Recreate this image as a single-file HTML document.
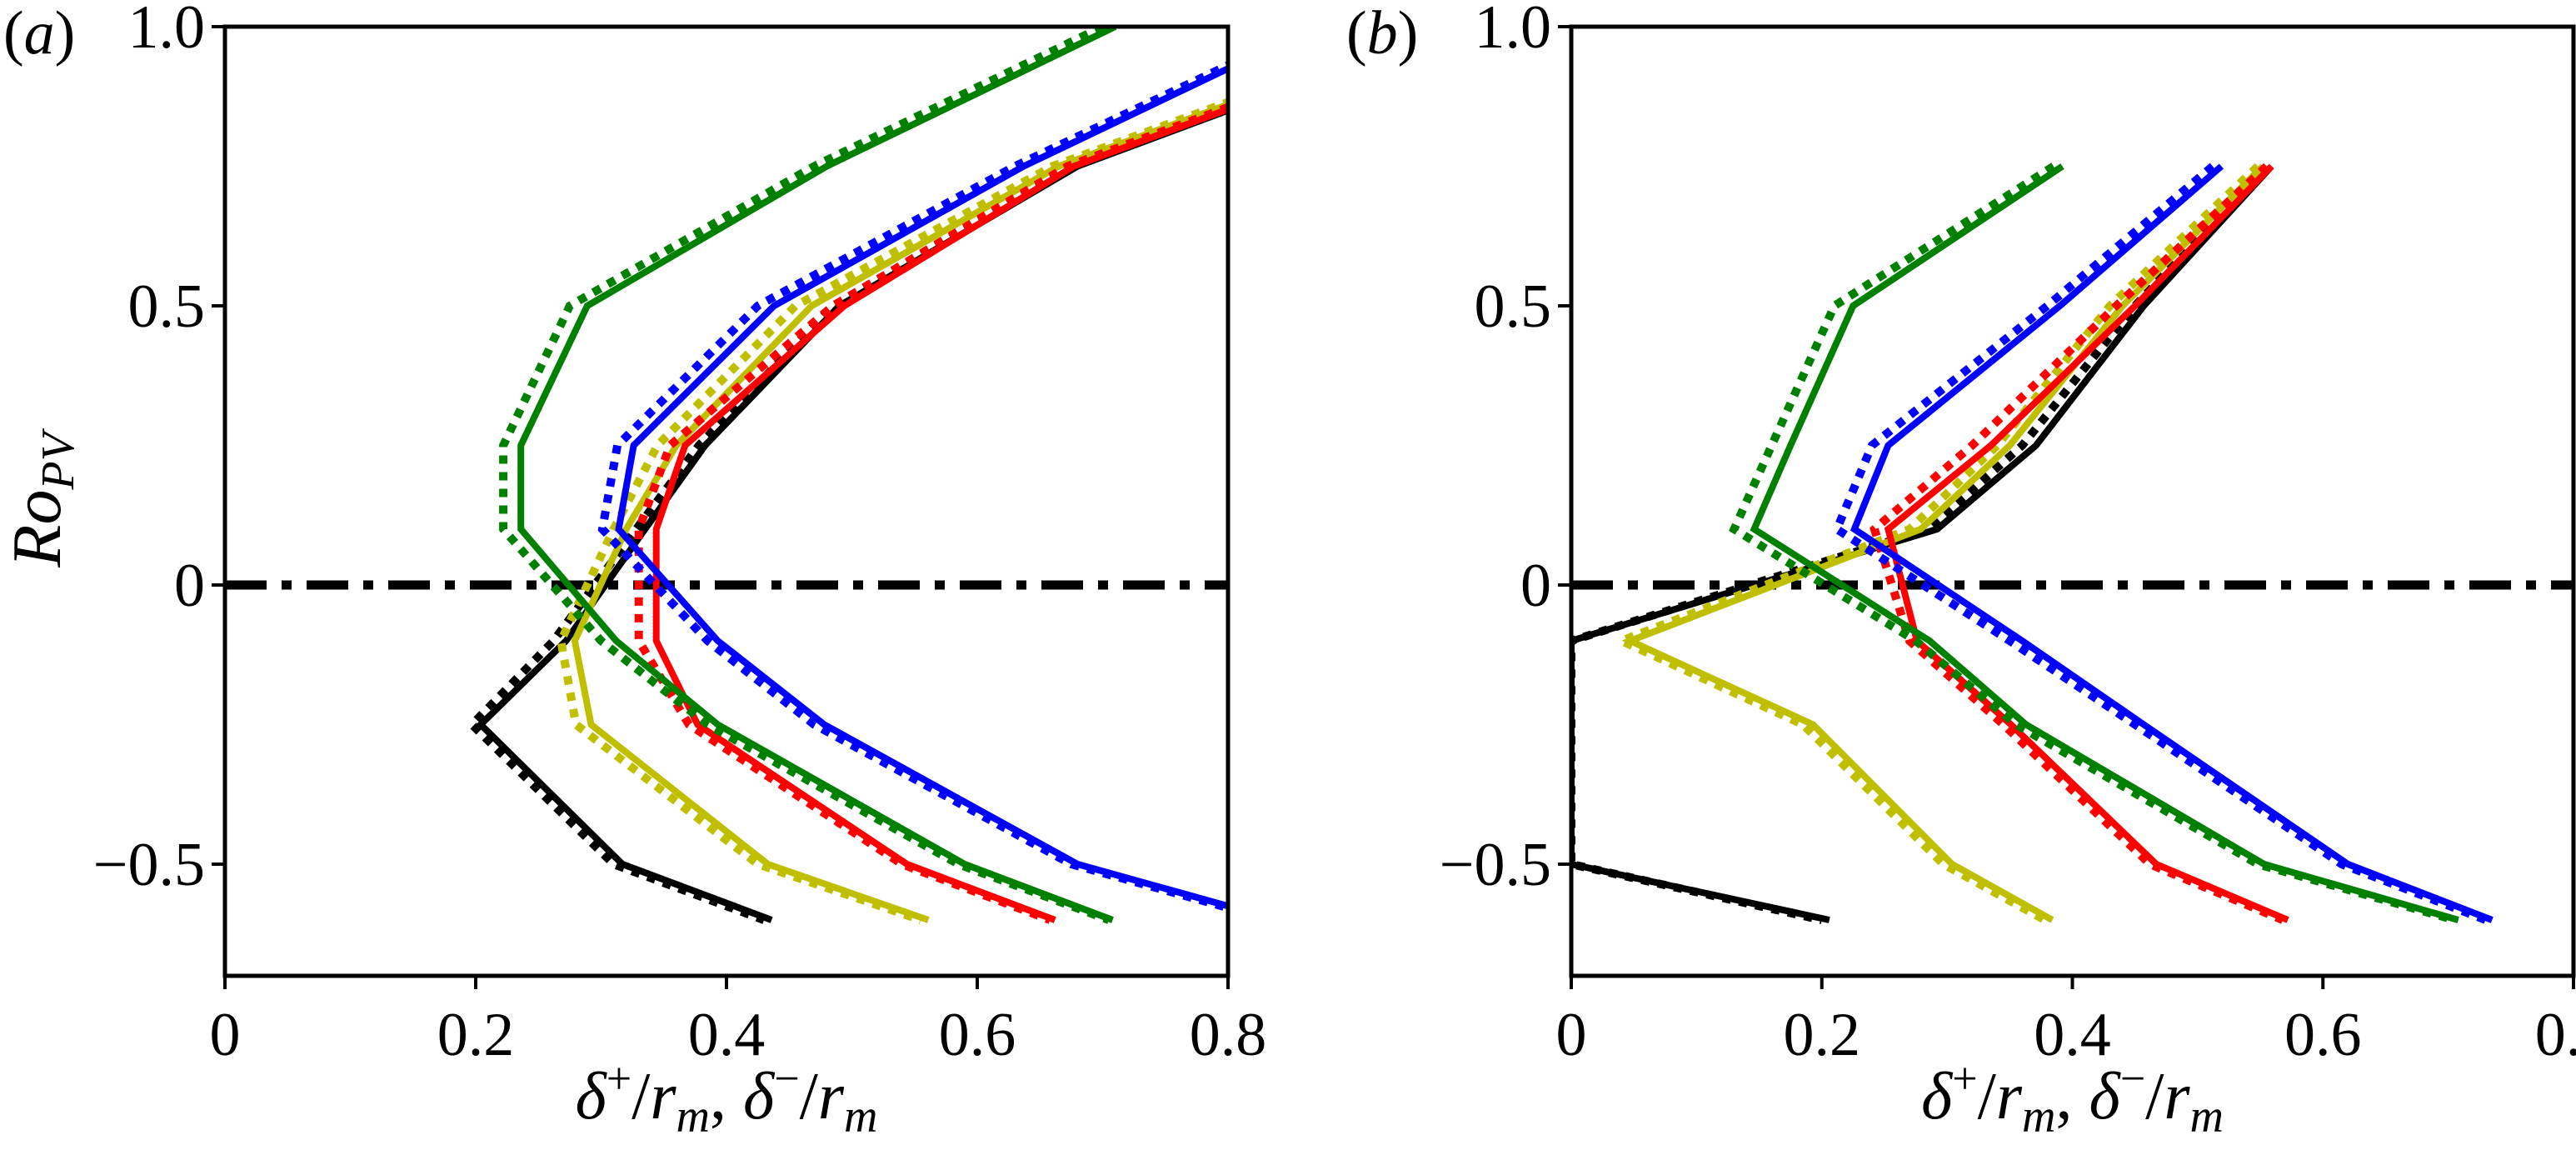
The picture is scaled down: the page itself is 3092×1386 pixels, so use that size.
<!DOCTYPE html>
<html><head><meta charset="utf-8"><style>
html,body{margin:0;padding:0;background:#fff;}
svg{display:block;font-family:"Liberation Serif",serif;}
</style></head><body>
<svg id="fig" width="3092" height="1386" viewBox="0 0 3092 1386" xmlns="http://www.w3.org/2000/svg"></svg>
<script>
const roA = [1.0,0.75,0.5,0.25,0.1,-0.1,-0.25,-0.5,-0.6];
const greenA = [0.71,0.48,0.289,0.236,0.236,0.312,0.393,0.59,0.708];
const greenADot = [0.70,0.47,0.275,0.222,0.222,0.30,0.385,0.585,0.705];
const blueA = [0.87,0.637,0.438,0.326,0.314,0.393,0.478,0.68,0.84];
const blueADot = [0.865,0.63,0.425,0.313,0.301,0.385,0.47,0.675,0.835];
const redA = [0.978,0.677,0.494,0.367,0.344,0.344,0.377,0.544,0.662];
const redADot = [0.975,0.672,0.485,0.355,0.33,0.33,0.37,0.54,0.658];
const blackA = [0.98,0.68,0.49,0.383,0.335,0.272,0.204,0.317,0.436];
const blackADot = [0.975,0.675,0.485,0.378,0.328,0.262,0.197,0.31,0.43];
const yellowA = [0.97,0.665,0.468,0.36,0.32,0.279,0.292,0.433,0.561];
const yellowADot = [0.965,0.66,0.455,0.345,0.31,0.268,0.28,0.425,0.555];

const roB = [0.75,0.5,0.25,0.1,-0.1,-0.25,-0.5,-0.6];
const greenB = [0.392,0.225,0.175,0.146,0.286,0.363,0.553,0.708];
const greenBDot = [0.385,0.21,0.16,0.13,0.275,0.355,0.548,0.705];
const blueB = [0.519,0.39,0.253,0.226,0.36,0.457,0.62,0.735];
const blueBDot = [0.512,0.38,0.24,0.212,0.35,0.45,0.615,0.73];
const redB = [0.559,0.45,0.335,0.253,0.276,0.351,0.467,0.572];
const redBDot = [0.555,0.435,0.32,0.242,0.27,0.345,0.462,0.568];
const blackB = [0.559,0.457,0.371,0.292,0.0,0.0,0.0,0.206];
const blackBDot = [0.555,0.45,0.36,0.285,0.0,0.0,0.0,0.2];
const yellowB = [0.552,0.44,0.35,0.279,0.047,0.193,0.304,0.384];
const yellowBDot = [0.548,0.43,0.34,0.27,0.04,0.185,0.297,0.378];

const xTicks = [0,0.2,0.4,0.6,0.8];
const xTickLabels = ["0","0.2","0.4","0.6","0.8"];
const yTicks = [1.0,0.5,0,-0.5];
const yTickLabels = ["1.0","0.5","0","\u22120.5"];

const NS = "http://www.w3.org/2000/svg";
const svg = document.getElementById("fig");
function mk(tag, attrs, parent){
  const e = document.createElementNS(NS, tag);
  for (const k in attrs) e.setAttribute(k, attrs[k]);
  (parent||svg).appendChild(e);
  return e;
}
const TOP=32, BOT=1171, Y0=702, YS=670;
function yS(v){ return Y0 - v*YS; }

function panel(id, left, right, label, series, roVals){
  const XS = (right-left)/0.8;
  const xS = v => left + v*XS;
  const g = mk("g", {});
  
  
  const defs = mk("defs", {}, g);
  const cp = mk("clipPath", {id:"clip-"+id}, defs);
  mk("rect", {x:left, y:TOP, width:right-left, height:BOT-TOP}, cp);
  const plot = mk("g", {"clip-path":"url(#clip-"+id+")"}, g);
  
  
  const z = mk("line", {x1:left, x2:right, y1:yS(0), y2:yS(0), stroke:"#000", "stroke-width":11, "stroke-dasharray":"50,18,12,18"}, plot);
  
  
  series.forEach(s => {
    const pts = s.vals.map((v,i)=> xS(v).toFixed(1)+","+yS(roVals[i]).toFixed(1)).join(" ");
    const attrs = {points:pts, fill:"none", stroke:s.color, "stroke-linejoin":"miter"};
    if (s.dot){ attrs["stroke-width"]=10; attrs["stroke-dasharray"]="10,10"; }
    else { attrs["stroke-width"]=8; }
    const p = mk("polyline", attrs, plot);
    
    
  });
  const fr = mk("rect", {x:left, y:TOP, width:right-left, height:BOT-TOP, fill:"none", stroke:"#000", "stroke-width":5}, g);
  
  
  xTicks.forEach((t,i)=>{
    const x = xS(t);
    mk("line", {x1:x, x2:x, y1:BOT, y2:BOT+16, stroke:"#000", "stroke-width":4}, g);
    const tx = mk("text", {x:x, y:1266, "font-size":74, "text-anchor":"middle"}, g);
    tx.textContent = xTickLabels[i];
    
    
  });
  yTicks.forEach((t,i)=>{
    const y = yS(t);
    mk("line", {x1:left-16, x2:left, y1:y, y2:y, stroke:"#000", "stroke-width":4}, g);
    const tx = mk("text", {x:left-24, y:y+25, "font-size":74, "text-anchor":"end"}, g);
    tx.textContent = yTickLabels[i];
    
    
  });
  const xl = mk("text", {x:(left+right)/2, y:1342, "font-size":80, "text-anchor":"middle", "font-style":"italic"}, g);
  xl.innerHTML = 'δ<tspan dy="-30" font-size="54" font-style="normal">+</tspan><tspan dy="30" font-style="normal">/</tspan>r<tspan dy="16" font-size="56">m</tspan><tspan dy="-16" font-style="normal">, </tspan>δ<tspan dy="-30" font-size="54" font-style="normal">−</tspan><tspan dy="30" font-style="normal">/</tspan>r<tspan dy="16" font-size="56">m</tspan>';
  
  
  const pl = mk("text", {x:label.x, y:64, "font-size":74}, g);
  pl.innerHTML = '(<tspan font-style="italic">'+id+'</tspan>)';
  
  
  return g;
}
const C = {g:"#008000", b:"#0000ff", r:"#ff0000", k:"#000000", y:"#bfbf00"};
panel("a", 270, 1474, {x:4}, [
  {name:"black-dotted", color:C.k, dot:true, vals:blackADot},
  {name:"black-solid", color:C.k, vals:blackA},
  {name:"yellow-dotted", color:C.y, dot:true, vals:yellowADot},
  {name:"yellow-solid", color:C.y, vals:yellowA},
  {name:"red-dotted", color:C.r, dot:true, vals:redADot},
  {name:"red-solid", color:C.r, vals:redA},
  {name:"blue-dotted", color:C.b, dot:true, vals:blueADot},
  {name:"blue-solid", color:C.b, vals:blueA},
  {name:"green-dotted", color:C.g, dot:true, vals:greenADot},
  {name:"green-solid", color:C.g, vals:greenA}
], roA);
panel("b", 1886, 3089, {x:1616}, [
  {name:"black-dotted", color:C.k, dot:true, vals:blackBDot},
  {name:"black-solid", color:C.k, vals:blackB},
  {name:"yellow-dotted", color:C.y, dot:true, vals:yellowBDot},
  {name:"yellow-solid", color:C.y, vals:yellowB},
  {name:"red-dotted", color:C.r, dot:true, vals:redBDot},
  {name:"red-solid", color:C.r, vals:redB},
  {name:"blue-dotted", color:C.b, dot:true, vals:blueBDot},
  {name:"blue-solid", color:C.b, vals:blueB},
  {name:"green-dotted", color:C.g, dot:true, vals:greenBDot},
  {name:"green-solid", color:C.g, vals:greenB}
], roB);
const yl = mk("text", {x:0, y:0, "font-size":84, "text-anchor":"middle", "font-style":"italic", transform:"translate(72,600) rotate(-90)"});
yl.innerHTML = 'Ro<tspan dy="16" font-size="56">PV</tspan>';


</script>
</body></html>
